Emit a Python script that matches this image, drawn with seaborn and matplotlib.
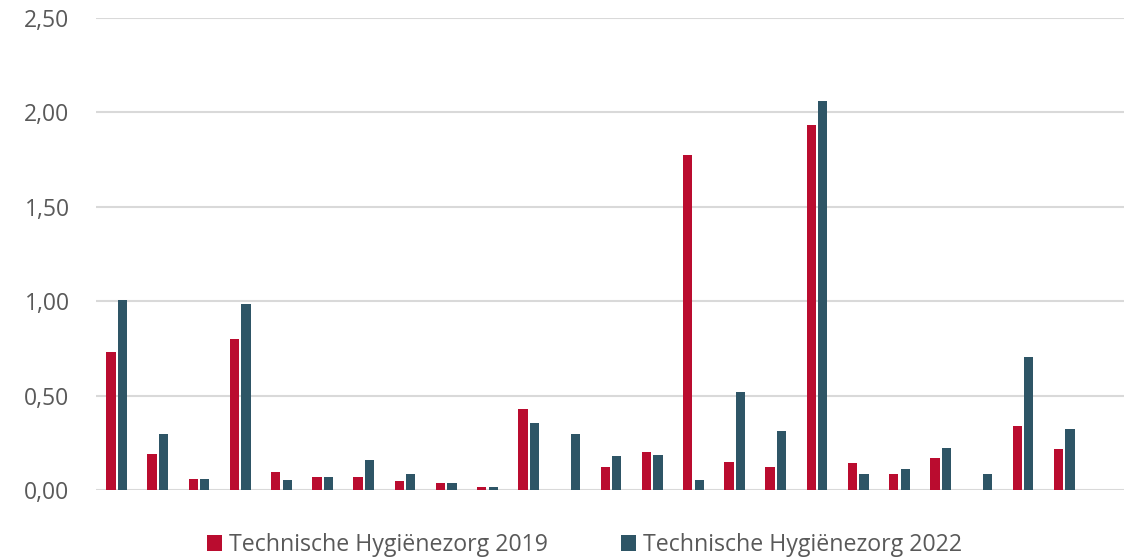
import numpy as np
import pandas as pd
import matplotlib
matplotlib.use('Agg')
import matplotlib.pyplot as plt
import seaborn as sns

# waarden per groep (24 groepen, geen labels op de x-as)
groepen = [str(i) for i in range(1, 25)]
hygiene_2019 = [0.73, 0.19, 0.06, 0.80, 0.095, 0.07, 0.067, 0.048, 0.037, 0.014,
                0.43, np.nan, 0.122, 0.20, 1.775, 0.146, 0.122, 1.933, 0.142, 0.083,
                0.171, np.nan, 0.337, 0.219]
hygiene_2022 = [1.007, 0.297, 0.058, 0.986, 0.051, 0.070, 0.161, 0.085, 0.038, 0.014,
                0.354, 0.297, 0.18, 0.188, 0.051, 0.519, 0.311, 2.06, 0.085, 0.111,
                0.224, 0.086, 0.702, 0.322]
reeksen = ['Technische Hygiënezorg 2019', 'Technische Hygiënezorg 2022']
kleuren = ['#BA0C2F', '#2E5566']
y_ticks = [0, 0.5, 1.0, 1.5, 2.0, 2.5]

df = pd.DataFrame({
    'groep': groepen * 2,
    'waarde': hygiene_2019 + hygiene_2022,
    'reeks': [reeksen[0]] * len(groepen) + [reeksen[1]] * len(groepen),
})

sns.set_style('white')
plt.rcParams['font.family'] = ['Open Sans', 'DejaVu Sans']

fig = plt.figure(figsize=(11.28, 5.59), dpi=100)
ax = fig.add_axes([96 / 1128, 1 - 490 / 559, (1124 - 96) / 1128, (490 - 18) / 559])

sns.barplot(data=df, x='groep', y='waarde', hue='reeks', order=groepen,
            hue_order=reeksen, palette=kleuren, saturation=1, width=0.56, gap=0.19,
            linewidth=0, errorbar=None, ax=ax)

ax.set_ylim(0, 2.5)
# de gridlijnen lopen verder door dan de laatste groep
ax.set_xlim(-0.5, len(groepen) + 0.45)
ax.set_yticks(y_ticks)
ax.set_yticklabels([f'{t:.2f}'.replace('.', ',') for t in y_ticks],
                   fontsize=16.5, color='#595959')
ax.tick_params(axis='y', length=0, pad=19)
ax.set_xticks([])
ax.set_xlabel('')
ax.set_ylabel('')
ax.grid(axis='y', color='#D9D9D9', linewidth=1.5)
ax.set_axisbelow(True)
for s in ax.spines.values():
    s.set_visible(False)

handles, labels = ax.get_legend_handles_labels()
ax.legend_.remove()
leg = fig.legend(handles, labels, loc='center', bbox_to_anchor=(584.5 / 1128, 1 - 545 / 559),
                 ncol=2, frameon=False, fontsize=16.7, handlelength=0.65, handleheight=0.65,
                 handletextpad=0.3, columnspacing=3.15, borderpad=0)
for t in leg.get_texts():
    t.set_color('#595959')

fig.savefig('out.png', dpi=100)
